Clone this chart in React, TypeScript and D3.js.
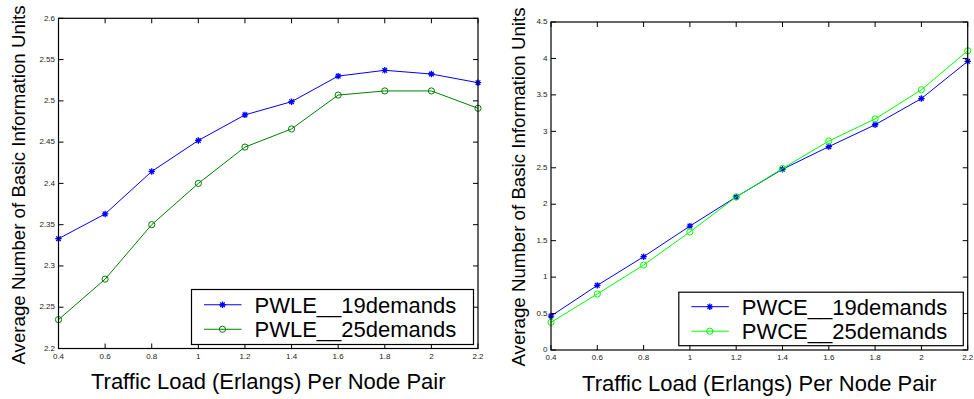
import React from "react";
import * as d3 from "d3";

const xValues = [0.4, 0.6, 0.8, 1.0, 1.2, 1.4, 1.6, 1.8, 2.0, 2.2];
const xTicks = [0.4, 0.6, 0.8, 1.0, 1.2, 1.4, 1.6, 1.8, 2.0, 2.2];

const pwle19 = [2.333, 2.363, 2.4145, 2.452, 2.483, 2.499, 2.53, 2.537, 2.5325, 2.522];
const pwle25 = [2.235, 2.284, 2.35, 2.4, 2.444, 2.466, 2.507, 2.512, 2.512, 2.491];
const leftYTicks = [2.2, 2.25, 2.3, 2.35, 2.4, 2.45, 2.5, 2.55, 2.6];

const pwce19 = [0.466, 0.887, 1.28, 1.7, 2.1, 2.48, 2.79, 3.09, 3.45, 3.96];
const pwce25 = [0.38, 0.768, 1.166, 1.62, 2.1, 2.49, 2.867, 3.17, 3.57, 4.105];
const rightYTicks = [0, 0.5, 1, 1.5, 2, 2.5, 3, 3.5, 4, 4.5];

const leftNames = ["PWLE__19demands", "PWLE__25demands"];
const rightNames = ["PWCE__19demands", "PWCE__25demands"];

const xLabel = "Traffic Load (Erlangs) Per Node Pair";
const yLabel = "Average Number of Basic Information Units";

const FONT = "'Liberation Sans', Arial, Helvetica, sans-serif";

type Series = { name: string; values: number[]; color: string; marker: "star" | "circle" };

const starPath = "M-3.2,0L3.2,0M0,-3.2L0,3.2M-2.3,-2.3L2.3,2.3M-2.3,2.3L2.3,-2.3";

function Marker({ x, y, kind, color }: { x: number; y: number; kind: string; color: string }) {
  if (kind === "star") {
    return <path d={starPath} transform={`translate(${x},${y})`} stroke={color} strokeWidth={1.3} fill="none" />;
  }
  return <circle cx={x} cy={y} r={3.1} stroke={color} strokeWidth={1} fill="none" />;
}

function fmt(v: number) {
  return String(+v.toFixed(2));
}

function Panel(props: {
  left: number; right: number; top: number; bottom: number;
  yDomain: [number, number]; yTicks: number[]; series: Series[];
  legend: { right: number; bottom: number; width: number; height: number };
  yLabelX: number; yLabelY: number; xLabelY: number;
}) {
  const { left, right, top, bottom, yDomain, yTicks, series, legend } = props;
  const x = d3.scaleLinear().domain([0.4, 2.2]).range([left, right]);
  const y = d3.scaleLinear().domain(yDomain).range([bottom, top]);
  const line = d3.line<number>().x((_, i) => x(xValues[i])).y((d) => y(d));
  const tl = 5;
  const lx0 = legend.right - legend.width;
  const ly0 = legend.bottom - legend.height;
  const rowGap = 24.5;
  const row1 = ly0 + legend.height / 2 - rowGap / 2;
  return (
    <g>
      {series.map((s) => (
        <g key={s.name}>
          <path d={line(s.values) || ""} fill="none" stroke={s.color} strokeWidth={1} />
          {s.values.map((v, i) => (
            <Marker key={i} x={x(xValues[i])} y={y(v)} kind={s.marker} color={s.color} />
          ))}
        </g>
      ))}
      {xTicks.map((t) => (
        <g key={"x" + t}>
          <line x1={x(t)} x2={x(t)} y1={bottom} y2={bottom - tl} stroke="#000" />
          <line x1={x(t)} x2={x(t)} y1={top} y2={top + tl} stroke="#000" />
          <text x={x(t)} y={bottom + 10} fontSize={8} textAnchor="middle" fill="#222" fontFamily={FONT}>{fmt(t)}</text>
        </g>
      ))}
      {yTicks.map((t) => (
        <g key={"y" + t}>
          <line x1={left} x2={left + tl} y1={y(t)} y2={y(t)} stroke="#000" />
          <line x1={right} x2={right - tl} y1={y(t)} y2={y(t)} stroke="#000" />
          <text x={left - 3.5} y={y(t) + 2.2} fontSize={8} textAnchor="end" fill="#222" fontFamily={FONT}>{fmt(t)}</text>
        </g>
      ))}
      <rect x={left} y={top} width={right - left} height={bottom - top} fill="none" stroke="#000" strokeWidth={1.2} />
      <rect x={lx0} y={ly0} width={legend.width} height={legend.height} fill="#fff" stroke="#000" strokeWidth={1.2} />
      {series.map((s, i) => {
        const ry = row1 + i * rowGap;
        return (
          <g key={"lg" + s.name}>
            <line x1={lx0 + 12.5} x2={lx0 + 50} y1={ry} y2={ry} stroke={s.color} strokeWidth={1} />
            <Marker x={lx0 + 31} y={ry} kind={s.marker} color={s.color} />
            <text x={lx0 + 63} y={ry + 7.8} fontSize={22} fill="#000" fontFamily={FONT}>{s.name}</text>
          </g>
        );
      })}
      <text x={(left + right) / 2} y={props.xLabelY} fontSize={22} textAnchor="middle" fill="#000" fontFamily={FONT}>{xLabel}</text>
      <text transform={`translate(${props.yLabelX},${props.yLabelY}) rotate(-90)`} fontSize={18.7} textAnchor="middle" fill="#000" fontFamily={FONT}>{yLabel}</text>
    </g>
  );
}

export default function App() {
  const leftSeries: Series[] = [
    { name: leftNames[0], values: pwle19, color: "#0000ff", marker: "star" },
    { name: leftNames[1], values: pwle25, color: "#008000", marker: "circle" },
  ];
  const rightSeries: Series[] = [
    { name: rightNames[0], values: pwce19, color: "#0000ff", marker: "star" },
    { name: rightNames[1], values: pwce25, color: "#00ff00", marker: "circle" },
  ];
  return (
    <svg width={974} height={399} style={{ position: "absolute", left: 0, top: 0, background: "#fff" }}>
      <rect width={974} height={399} fill="#fff" />
      <Panel left={58.5} right={478} top={18.3} bottom={348.5} yDomain={[2.2, 2.6]} yTicks={leftYTicks}
        series={leftSeries} legend={{ right: 473.5, bottom: 344.5, width: 282, height: 55 }}
        yLabelX={25} yLabelY={185} xLabelY={388.5} />
      <Panel left={551} right={967.7} top={22} bottom={350} yDomain={[0, 4.5]} yTicks={rightYTicks}
        series={rightSeries} legend={{ right: 963.3, bottom: 345.7, width: 284.5, height: 53.5 }}
        yLabelX={524.7} yLabelY={187} xLabelY={391} />
    </svg>
  );
}
